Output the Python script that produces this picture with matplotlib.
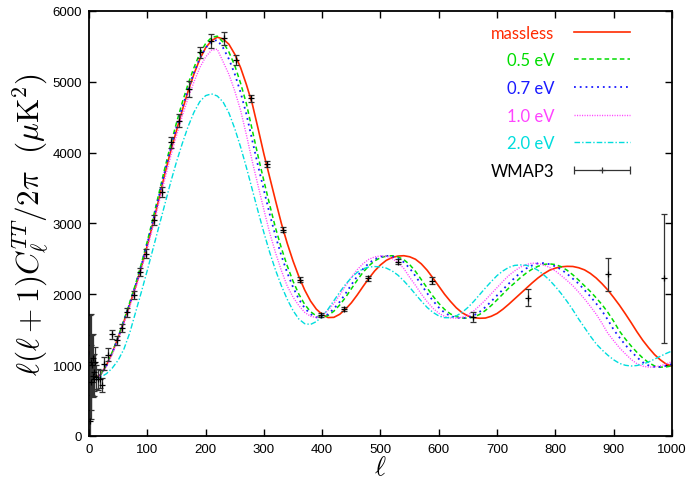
import matplotlib
matplotlib.use("Agg")
import matplotlib.pyplot as plt
import numpy as np
from matplotlib.legend_handler import HandlerErrorbar

plt.rcParams['mathtext.fontset'] = 'cm'
plt.rcParams['font.family'] = ['Liberation Sans', 'DejaVu Sans']

# multipoles where the model curves are tabulated
ell = [2, 5, 10, 15, 20] + list(range(30, 1001, 10))

massless = [1190, 980, 860, 840, 870,
            1000, 1180, 1390, 1620, 1860, 2110, 2390, 2690, 3010, 3350,
            3700, 4020, 4310, 4600, 4870, 5110, 5320, 5480, 5580, 5630,
            5605, 5530, 5390, 5200, 4960, 4690, 4340, 3980, 3650, 3320,
            3000, 2720, 2470, 2250, 2060, 1905, 1790, 1715, 1672, 1675,
            1718, 1790, 1880, 1990, 2110, 2225, 2330, 2415, 2480, 2520,
            2540, 2545, 2530, 2495, 2430, 2340, 2230, 2115, 2000, 1900,
            1810, 1740, 1695, 1670, 1662, 1665, 1690, 1730, 1790, 1860,
            1935, 2010, 2085, 2160, 2230, 2290, 2340, 2370, 2388, 2395,
            2393, 2375, 2345, 2295, 2230, 2150, 2060, 1955, 1845, 1725,
            1600, 1470, 1350, 1245, 1150, 1075, 1015, 985]

ev05 = [1180, 975, 855, 835, 865,
        1000, 1185, 1400, 1640, 1890, 2150, 2440, 2750, 3080, 3430,
        3780, 4110, 4420, 4710, 4970, 5200, 5400, 5540, 5625, 5645,
        5560, 5420, 5230, 4980, 4690, 4320, 3950, 3600, 3260, 2935,
        2652, 2402, 2185, 2001, 1857, 1755, 1694, 1674, 1700, 1762,
        1849, 1956, 2078, 2199, 2310, 2402, 2472, 2517, 2539, 2545,
        2528, 2490, 2420, 2324, 2208, 2090, 1974, 1872, 1786, 1723,
        1685, 1666, 1663, 1680, 1716, 1772, 1842, 1922, 2005, 2088,
        2160, 2235, 2300, 2355, 2395, 2422, 2430, 2420, 2390, 2340,
        2275, 2200, 2120, 2040, 1950, 1855, 1745, 1620, 1480, 1370,
        1270, 1180, 1100, 1035, 990, 972, 975, 990]

ev07 = [1180, 975, 855, 835, 862,
        995, 1175, 1390, 1625, 1870, 2130, 2415, 2720, 3045, 3390,
        3735, 4060, 4360, 4640, 4900, 5130, 5330, 5480, 5570, 5590,
        5480, 5320, 5110, 4850, 4542, 4174, 3813, 3470, 3130, 2820,
        2545, 2305, 2100, 1930, 1805, 1720, 1675, 1675, 1720, 1796,
        1893, 2010, 2135, 2253, 2357, 2439, 2497, 2530, 2543, 2537,
        2506, 2453, 2369, 2257, 2138, 2015, 1910, 1814, 1739, 1694,
        1669, 1662, 1670, 1702, 1752, 1820, 1900, 1985, 2068, 2150,
        2232, 2305, 2365, 2408, 2438, 2440, 2425, 2395, 2350, 2290,
        2220, 2150, 2060, 1970, 1870, 1765, 1640, 1500, 1390, 1285,
        1195, 1110, 1040, 995, 975, 975, 990, 1015]

ev10 = [1175, 970, 850, 830, 855,
        980, 1155, 1360, 1590, 1830, 2080, 2355, 2650, 2965, 3295,
        3625, 3945, 4240, 4520, 4770, 5000, 5200, 5350, 5445, 5460,
        5283, 5105, 4871, 4599, 4250, 3878, 3534, 3192, 2866, 2585,
        2334, 2117, 1960, 1840, 1745, 1690, 1672, 1700, 1774, 1871,
        1989, 2117, 2240, 2347, 2432, 2494, 2528, 2542, 2537, 2506,
        2451, 2365, 2240, 2127, 2004, 1897, 1803, 1733, 1689, 1667,
        1663, 1676, 1711, 1766, 1840, 1920, 2008, 2095, 2183, 2265,
        2330, 2385, 2420, 2440, 2435, 2415, 2380, 2330, 2265, 2195,
        2120, 2030, 1935, 1830, 1720, 1590, 1450, 1345, 1245, 1160,
        1080, 1020, 985, 972, 975, 990, 1015, 1050]

ev20 = [1170, 960, 845, 820, 830,
        880, 960, 1070, 1230, 1460, 1750, 2040, 2340, 2650, 2960,
        3270, 3580, 3870, 4130, 4370, 4570, 4720, 4805, 4830, 4800,
        4715, 4560, 4340, 4080, 3790, 3480, 3170, 2870, 2590, 2340,
        2120, 1930, 1770, 1650, 1585, 1575, 1615, 1690, 1790, 1910,
        2030, 2140, 2235, 2310, 2360, 2385, 2392, 2388, 2370, 2330,
        2270, 2190, 2100, 2000, 1905, 1815, 1745, 1695, 1670, 1670,
        1695, 1745, 1815, 1900, 1995, 2090, 2180, 2265, 2330, 2380,
        2408, 2415, 2410, 2385, 2340, 2275, 2200, 2110, 2010, 1900,
        1780, 1650, 1530, 1410, 1300, 1215, 1140, 1075, 1025, 998,
        988, 995, 1015, 1045, 1085, 1125, 1165, 1200]

# WMAP3 band powers
wmap_l = [2, 3, 4, 5, 6, 7, 8, 9, 10, 11.4, 15, 19, 21.6, 25.7, 32.5, 38.8,
          47.4, 56, 65, 76.5, 87, 98, 111, 125, 140.6, 154, 172, 191, 210,
          231, 252.5, 278, 305, 333, 362, 398, 437, 479, 530, 588, 659, 753,
          891, 987]
wmap_v = [211, 1040, 760, 1000, 1100, 850, 900, 800, 1050, 832, 800, 808,
          714, 1020, 1147, 1433, 1349, 1523, 1745, 1990, 2315, 2575, 3055,
          3441, 4146, 4451, 4898, 5416, 5580, 5613, 5312, 4767, 3841, 2914,
          2209, 1711, 1795, 2228, 2463, 2195, 1678, 1950, 2280, 2228]
wmap_e = [1500, 680, 520, 420, 340, 300, 260, 230, 210, 170, 150, 130, 100,
          90, 95, 70, 60, 60, 60, 60, 60, 60, 70, 70, 80, 90, 110, 80, 100,
          90, 70, 50, 40, 35, 30, 30, 30, 35, 40, 50, 70, 120, 230, 910]

fig = plt.figure(figsize=(6.88, 4.85), dpi=100)
ax = fig.add_axes([0.1294, 0.099, 0.8473, 0.8763])

ax.plot(ell, massless, color='#ff2a00', lw=1.2, label='massless')
ax.plot(ell, ev05, color='#00dd00', lw=1.1, ls=(0, (3, 2)), label='0.5 eV')
ax.plot(ell, ev07, color='#1a1aff', lw=1.3, ls=(0, (1, 2.2)), label='0.7 eV')
ax.plot(ell, ev10, color='#ff44ff', lw=1.0, ls=(0, (0.8, 1)), label='1.0 eV')
ax.plot(ell, ev20, color='#00dddd', lw=1.0, ls=(0, (4, 1.5, 1, 1.5)), label='2.0 eV')

ax.errorbar(wmap_l, wmap_v, yerr=wmap_e, fmt='+', color='black', ms=5,
            mew=0.9, elinewidth=0.9, ecolor='#333333', capsize=2.5, capthick=0.9)
# legend sample for the data (horizontal bar like the original key)
proxy = ax.errorbar([np.nan], [np.nan], xerr=[1], fmt='+', color='#333333',
                    ms=5, mew=0.9, elinewidth=0.9, capsize=3, capthick=0.9,
                    label='WMAP3')

ax.set_xlim(0, 1000)
ax.set_ylim(0, 6000)
ax.set_xticks(range(0, 1001, 100))
ax.set_yticks(range(0, 6001, 1000))
ax.tick_params(direction='in', top=True, right=True, length=5, width=1,
               labelsize=9.5, pad=5)
for s in ax.spines.values():
    s.set_linewidth(1.3)

ax.set_xlabel(r'$\ell$', fontsize=19, labelpad=0)
ax.set_ylabel(r'$\ell(\ell+1)C_\ell^{TT}/2\pi\ \ (\mu{\rm K}^2)$', fontsize=22.5,
              labelpad=2)

leg = ax.legend(loc='upper right', bbox_to_anchor=(0.928, 0.968), frameon=False,
                markerfirst=False, labelcolor='linecolor', handlelength=3.35,
                handletextpad=1.2, labelspacing=0.7, borderaxespad=0,
                borderpad=0, prop={'family': 'Lato', 'size': 12},
                handler_map={proxy: HandlerErrorbar(xerr_size=1.67)})
leg.get_texts()[-1].set_color('black')

fig.savefig('out.png', dpi=100)
